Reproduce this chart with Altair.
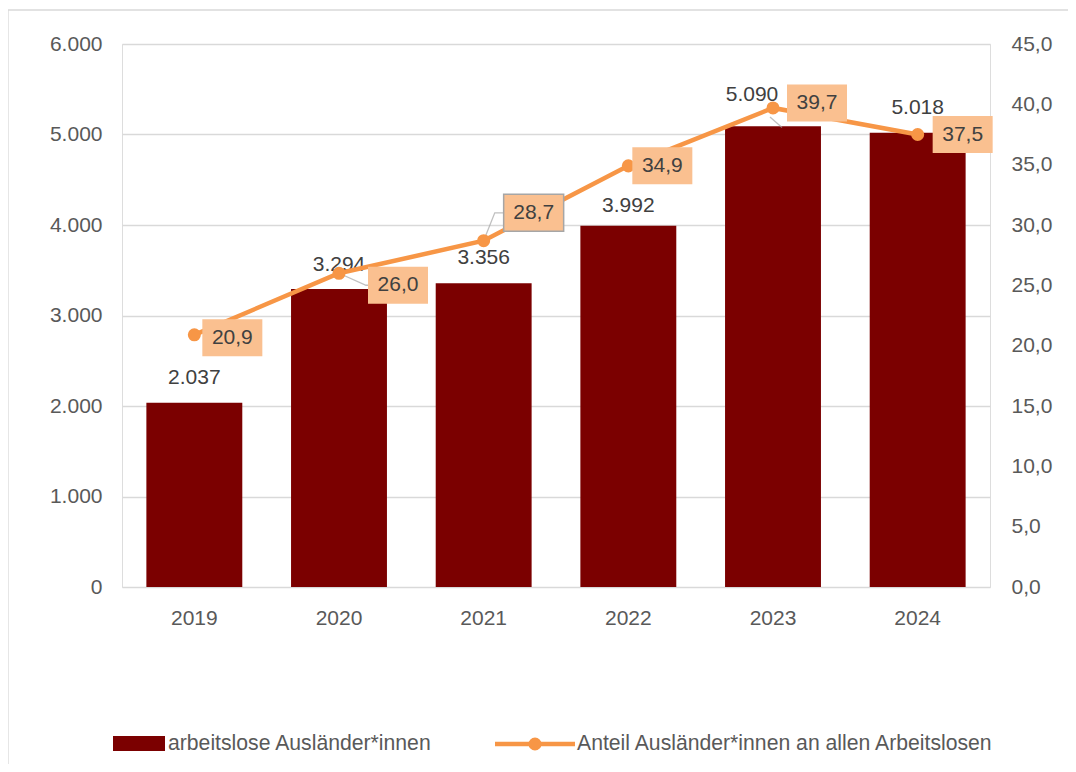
import altair as alt
import pandas as pd

years = ["2019", "2020", "2021", "2022", "2023", "2024"]
arbeitslose = [2037, 3294, 3356, 3992, 5090, 5018]
anteil = [20.9, 26.0, 28.7, 34.9, 39.7, 37.5]

series_bar = "arbeitslose Ausländer*innen"
series_line = "Anteil Ausländer*innen an allen Arbeitslosen"

# label placement (pixels) relative to the anchor
bar_lbl_dx = [0, 0, 0, 0, -21, 0]
bar_lbl_dy = [-25, -24, -25, -20, -31, -25]
pct_lbl_dx = [38, 59, 50, 34, 44, 45]
pct_lbl_dy = [3, 12, -28, 0, -5, 0]
pct_box_stroke = [False, False, True, False, False, False]

df = pd.DataFrame({
    "Jahr": years,
    "Arbeitslose": arbeitslose,
    "Anteil": anteil,
    "bar_label": [f"{v:,}".replace(",", ".") for v in arbeitslose],
    "pct_label": [f"{v:.1f}".replace(".", ",") for v in anteil],
})

W, H = 868, 543
FONT = "Liberation Sans"
FS = 21
LFS = 21.2
BAR_COLOR = "#7B0000"
LINE_COLOR = "#F79646"
BOX_COLOR = "#FAC090"
TXT = "#404040"
AX = "#595959"

hide = dict(ticks=False, domain=False, tickOpacity=0, tickWidth=0, domainOpacity=0, domainWidth=0,
            domainColor="transparent", tickColor="transparent")

x_enc = alt.X("Jahr:N", sort=years,
              scale=alt.Scale(paddingInner=0.337, paddingOuter=0.1685),
              axis=alt.Axis(title=None, labelAngle=0, labelFont=FONT, labelFontSize=FS,
                            labelColor=AX, labelPadding=20, grid=False, **hide))

y_left = alt.Y("Arbeitslose:Q", scale=alt.Scale(domain=[0, 6000], nice=False),
               axis=alt.Axis(title=None, values=[0, 1000, 2000, 3000, 4000, 5000, 6000],
                             labelExpr="replace(format(datum.value, ',.0f'), ',', '.')",
                             labelFont=FONT, labelFontSize=FS, labelColor=AX,
                             labelPadding=20, grid=True,
                             gridColor="#D9D9D9", gridWidth=1.3, **hide))

y_right = alt.Y("Anteil:Q", scale=alt.Scale(domain=[0, 45], nice=False),
                axis=alt.Axis(title=None, orient="right", values=[0, 5, 10, 15, 20, 25, 30, 35, 40, 45],
                              labelExpr="replace(format(datum.value, '.1f'), '.', ',')",
                              labelFont=FONT, labelFontSize=FS, labelColor=AX,
                              labelPadding=21, grid=False, **hide))

base = alt.Chart(df)

bars = base.mark_bar(color=BAR_COLOR).encode(x=x_enc, y=y_left)

bar_labels = []
for i, yr in enumerate(years):
    bar_labels.append(
        base.transform_filter(alt.datum.Jahr == yr)
        .mark_text(font=FONT, fontSize=FS, color=TXT, baseline="middle",
                   dx=bar_lbl_dx[i], dy=bar_lbl_dy[i])
        .encode(x=alt.X("Jahr:N", sort=years), y=alt.Y("Arbeitslose:Q"), text="bar_label:N")
    )

left = alt.layer(bars, *bar_labels)

line = base.mark_line(color=LINE_COLOR, strokeWidth=4.5).encode(x=alt.X("Jahr:N", sort=years), y=y_right)
pts = base.mark_point(color=LINE_COLOR, filled=True, opacity=1, size=170).encode(
    x=alt.X("Jahr:N", sort=years), y=alt.Y("Anteil:Q"))

# leader lines (gray) for some labels
lead_2020 = base.transform_filter(alt.datum.Jahr == "2020").mark_point(
    shape="M0,0 L0.9,0.4 L1.9,0.4", filled=False, stroke="#A6A6A6", strokeWidth=1.3, size=3600
).encode(x=alt.X("Jahr:N", sort=years), y=alt.Y("Anteil:Q"))
lead_2021 = base.transform_filter(alt.datum.Jahr == "2021").mark_point(
    shape="M0,0 L0.37,-0.93 L0.7,-0.93", filled=False, stroke="#A6A6A6", strokeWidth=1.3, size=3600
).encode(x=alt.X("Jahr:N", sort=years), y=alt.Y("Anteil:Q"))
lead_2023 = base.transform_filter(alt.datum.Jahr == "2023").mark_point(
    shape="M-0.1,0.3 L0.3,0.65", filled=False, stroke="#A6A6A6", strokeWidth=1.3, size=3600
).encode(x=alt.X("Jahr:N", sort=years), y=alt.Y("Anteil:Q"))

HALF_W, HALF_H = 30.0, 18.5
pct_layers = []
for i, yr in enumerate(years):
    dx, dy = pct_lbl_dx[i], pct_lbl_dy[i]
    x0 = (dx - HALF_W) / HALF_W
    y0 = (dy - HALF_H) / HALF_W
    hh = 2 * HALF_H / HALF_W
    path = f"M{x0:.4f},{y0:.4f} h2 v{hh:.4f} h-2 Z"
    box_kwargs = dict(shape=path, filled=True, fill=BOX_COLOR, opacity=1, size=3600)
    if pct_box_stroke[i]:
        box_kwargs.update(stroke="#A6A6A6", strokeWidth=1.5)
    else:
        box_kwargs.update(strokeWidth=0)
    sub = base.transform_filter(alt.datum.Jahr == yr)
    pct_layers.append(sub.mark_point(**box_kwargs).encode(
        x=alt.X("Jahr:N", sort=years), y=alt.Y("Anteil:Q")))
    pct_layers.append(sub.mark_text(font=FONT, fontSize=FS, color=TXT, baseline="middle",
                                    dx=dx, dy=dy).encode(
        x=alt.X("Jahr:N", sort=years), y=alt.Y("Anteil:Q"), text="pct_label:N"))

right = alt.layer(line, lead_2020, lead_2021, lead_2023, pts, *pct_layers)

# manual legend below the plot
leg_df = pd.DataFrame({"a": [0]})
leg = alt.Chart(leg_df)
leg_bar = leg.mark_rect(color=BAR_COLOR).encode(
    x=alt.value(-9), x2=alt.value(43), y=alt.value(692), y2=alt.value(707))
leg_bar_txt = leg.mark_text(text=series_bar, font=FONT, fontSize=LFS, color=AX, align="left",
                            baseline="middle").encode(x=alt.value(46), y=alt.value(700))
leg_line = leg.mark_rule(color=LINE_COLOR, strokeWidth=4.5).encode(
    x=alt.value(373), x2=alt.value(453), y=alt.value(700))
leg_pt = leg.mark_point(color=LINE_COLOR, filled=True, opacity=1, size=170).encode(
    x=alt.value(413), y=alt.value(700))
leg_line_txt = leg.mark_text(text=series_line, font=FONT, fontSize=LFS, color=AX, align="left",
                             baseline="middle").encode(x=alt.value(455), y=alt.value(700))
frame = leg.mark_rect(fill=None, stroke="#D9D9D9", strokeWidth=1.3).encode(
    x=alt.value(-114), x2=alt.value(948), y=alt.value(-34), y2=alt.value(760))

legend = alt.layer(frame, leg_bar, leg_bar_txt, leg_line, leg_pt, leg_line_txt)

chart = alt.layer(left, right, legend).resolve_scale(y="independent").properties(
    width=W, height=H,
    autosize=alt.AutoSizeParams(type="none"),
    padding={"left": 114, "top": 36, "right": 78, "bottom": 177},
).configure_view(stroke=None, strokeWidth=0, strokeOpacity=0).configure_axis(
    **hide
).configure(background="white")

chart.save("out.html", embed_options={"renderer": "svg", "actions": False})
